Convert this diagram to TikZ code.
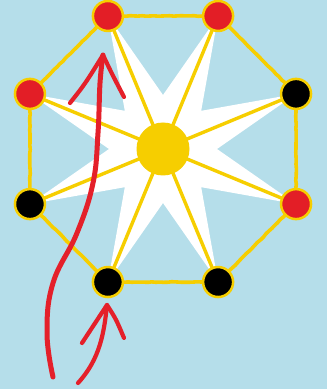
\documentclass[tikz,border=0pt]{standalone}
\usetikzlibrary{arrows.meta,positioning,calc,decorations.pathmorphing}
\definecolor{skyblue}{RGB}{181,222,234}
\definecolor{sunyellow}{RGB}{246,206,0}
\definecolor{dotred}{RGB}{227,30,38}
\definecolor{crayonred}{RGB}{228,32,42}
\tikzset{
  reddot/.style  ={circle, draw=sunyellow, line width=2.5pt, fill=dotred,
                   minimum size=30pt, inner sep=0pt},
  blackdot/.style={reddot, fill=black},
  hubdot/.style  ={circle, fill=sunyellow, minimum size=53pt, inner sep=0pt},
  spoke/.style   ={draw=sunyellow, line width=3.4pt},
  rim/.style     ={draw=sunyellow, line width=3.6pt,
                   decorate, decoration={random steps, segment length=4pt, amplitude=0.3pt}},
  crayon/.style  ={draw=crayonred, line width=4.2pt, line cap=round, line join=round},
}

\begin{document}
\begin{tikzpicture}[x=1pt,y=1pt]
  \fill[skyblue] (0,0) rectangle (327,389);
  \useasboundingbox (0,0) rectangle (327,389);
  \coordinate (c) at (163,240);
  % points of the octagon
  \foreach \a [count=\i] in {22.5,67.5,...,337.5}
    \coordinate (p\i) at ($(c)+(\a:144)$);
  % white star
  \fill[white] ($(c)+(0:54)$)
    \foreach \a in {0,45,...,315} { -- ($(c)+(\a+22.5:144)$) -- ($(c)+(\a+45:54)$) } -- cycle;
  % spokes and rim
  \foreach \i in {1,...,8}
    \draw[spoke] (c) -- (p\i);
  \foreach \i [evaluate=\i as \j using {int(mod(\i,8)+1)}] in {1,...,8}
    \draw[rim] (p\i) -- (p\j);
  % dots
  \foreach \i/\s in {1/blackdot,2/reddot,3/reddot,4/reddot,5/blackdot,6/blackdot,7/blackdot,8/reddot}
    \node[\s] (n\i) at (p\i) {};
  \node[hubdot] (hub) at (c) {};
  % red arrows
  \coordinate (lstart) at (53,12);
  \coordinate (ltip) at (103,334);
  \draw[crayon, line width=5pt] plot[smooth, tension=0.7] coordinates
    {(53,12) (47,56) (53,106) (77,156) (93,206) (98,256) (100,306) (103,334)};
  \draw[crayon] (70,286) .. controls (85,305) .. (ltip) .. controls (112,315) .. (124,292);
  \coordinate (sstart) at (78,6);
  \coordinate (stip) at (107,84);
  \draw[crayon] (sstart) .. controls (100,30) and (104,56) .. (stip);
  \draw[crayon] (82,46) .. controls (95,65) .. (stip) .. controls (116,70) .. (124,51);
\end{tikzpicture}
\end{document}
